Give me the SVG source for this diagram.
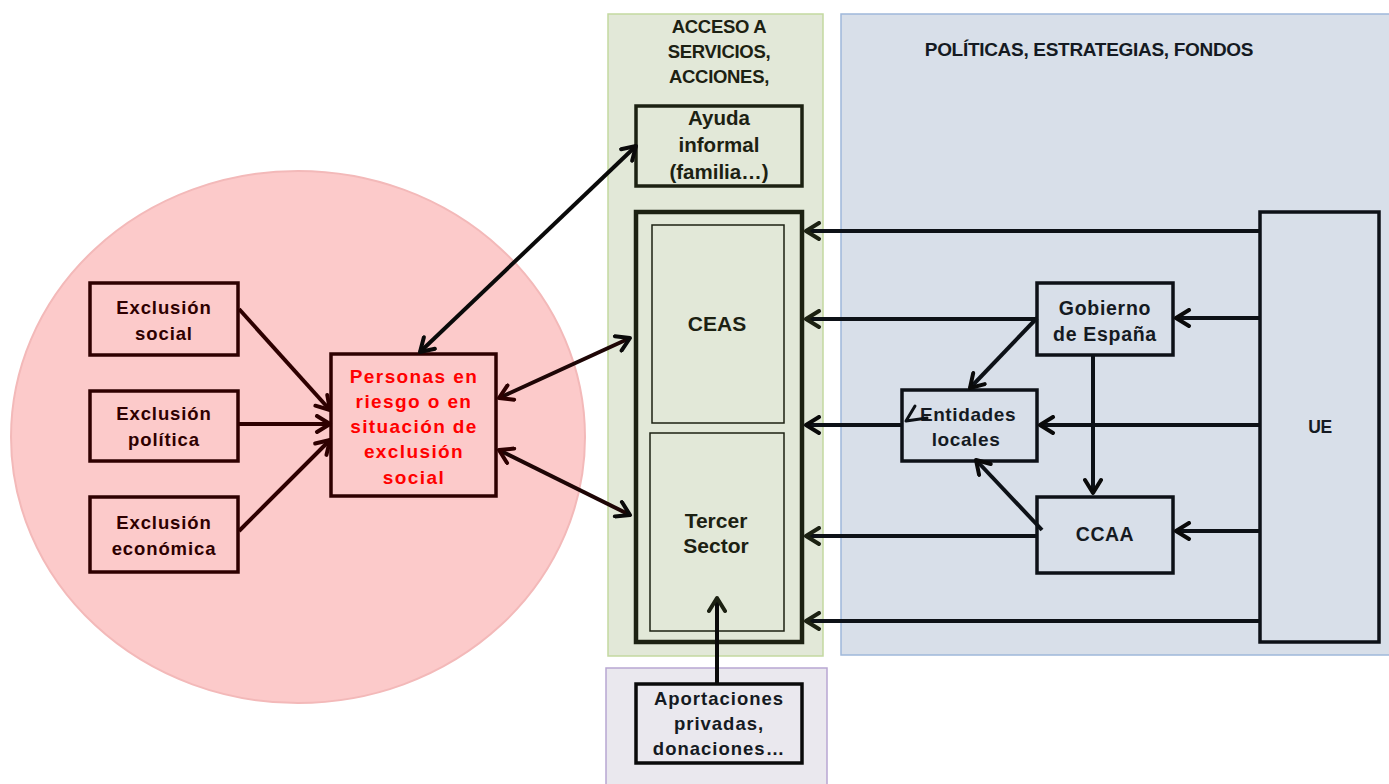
<svg xmlns="http://www.w3.org/2000/svg" width="1389" height="784" viewBox="0 0 1389 784">
<defs>
<style>
.t{font-family:"Liberation Sans",Arial,sans-serif;font-weight:bold;text-anchor:middle}
.dk{fill:#1c2112}
.mr{fill:#2e0000}
.bl{fill:#151a22}
.red{fill:#ff0000}
.box{stroke-width:3.5}
.ln{fill:none;stroke-width:4}
</style>
<marker id="ak" viewBox="0 0 20 20" refX="17" refY="10" markerWidth="20" markerHeight="20" markerUnits="userSpaceOnUse" orient="auto-start-reverse">
<path d="M4,2 L17,10 L4,18" fill="none" stroke="#0a0a0a" stroke-width="4" stroke-linecap="round" stroke-linejoin="round"/>
</marker>
<marker id="am" viewBox="0 0 20 20" refX="17" refY="10" markerWidth="20" markerHeight="20" markerUnits="userSpaceOnUse" orient="auto-start-reverse">
<path d="M4,2 L17,10 L4,18" fill="none" stroke="#2e0000" stroke-width="4" stroke-linecap="round" stroke-linejoin="round"/>
</marker>
<marker id="ag" viewBox="0 0 20 20" refX="17" refY="10" markerWidth="20" markerHeight="20" markerUnits="userSpaceOnUse" orient="auto-start-reverse">
<path d="M4,2 L17,10 L4,18" fill="none" stroke="#1c2112" stroke-width="4" stroke-linecap="round" stroke-linejoin="round"/>
</marker>
</defs>
<rect width="1389" height="784" fill="#ffffff"/>

<g id="backgrounds">
<ellipse cx="298" cy="437" rx="287" ry="266" fill="#fccaca" stroke="#f3b9b9" stroke-width="2"/>
<rect x="608" y="14" width="215" height="642" fill="#e2e8d8" stroke="#c3d9a0" stroke-width="1.5"/>
<rect x="841" y="14" width="550" height="641" fill="#d8dfe9" stroke="#9fb8da" stroke-width="1.5"/>
<rect x="606" y="668" width="221" height="120" fill="#eae8ee" stroke="#b8a6d2" stroke-width="1.5"/>
</g>

<g id="panel-labels">
<text class="t dk" font-size="18.5" letter-spacing="-0.3" x="719" y="33">ACCESO A</text>
<text class="t dk" font-size="18.5" letter-spacing="-0.3" x="719" y="58">SERVICIOS,</text>
<text class="t dk" font-size="18.5" letter-spacing="-0.3" x="719" y="83">ACCIONES,</text>
<text class="t bl" font-size="19" letter-spacing="-0.3" x="1089" y="56">POLÍTICAS, ESTRATEGIAS, FONDOS</text>
</g>

<g id="excl-social">
<rect class="box" x="90" y="283" width="148" height="72" fill="none" stroke="#2e0000"/>
<text class="t mr" font-size="18.5" letter-spacing="0.9" x="164" y="314">Exclusión</text>
<text class="t mr" font-size="18.5" letter-spacing="0.9" x="164" y="340">social</text>
</g>
<g id="excl-politica">
<rect class="box" x="90" y="391" width="148" height="70" fill="none" stroke="#2e0000"/>
<text class="t mr" font-size="18.5" letter-spacing="0.9" x="164" y="420">Exclusión</text>
<text class="t mr" font-size="18.5" letter-spacing="0.9" x="164" y="446">política</text>
</g>
<g id="excl-economica">
<rect class="box" x="90" y="497" width="148" height="75" fill="none" stroke="#2e0000"/>
<text class="t mr" font-size="18.5" letter-spacing="0.9" x="164" y="529">Exclusión</text>
<text class="t mr" font-size="18.5" letter-spacing="0.9" x="164" y="555">económica</text>
</g>
<g id="personas">
<rect class="box" x="331" y="354" width="165" height="142" fill="none" stroke="#2e0000"/>
<text class="t red" font-size="19" letter-spacing="1.4" x="414" y="383">Personas en</text>
<text class="t red" font-size="19" letter-spacing="1.4" x="414" y="408">riesgo o en</text>
<text class="t red" font-size="19" letter-spacing="1.4" x="414" y="433">situación de</text>
<text class="t red" font-size="19" letter-spacing="1.4" x="414" y="458">exclusión</text>
<text class="t red" font-size="19" letter-spacing="1.4" x="414" y="484">social</text>
</g>

<g id="ayuda">
<rect class="box" x="636" y="106" width="166" height="80" fill="none" stroke="#1c2112"/>
<text class="t dk" font-size="20.5" x="719" y="125">Ayuda</text>
<text class="t dk" font-size="20.5" x="719" y="152">informal</text>
<text class="t dk" font-size="20.5" x="719" y="179">(familia…)</text>
</g>
<g id="servicios">
<rect x="636" y="212" width="166" height="430" fill="none" stroke="#1c2112" stroke-width="4.5"/>
</g>
<g id="ceas">
<rect x="652" y="225" width="132" height="198" fill="none" stroke="#1c2112" stroke-width="1.5"/>
<text class="t dk" font-size="21" x="717" y="331">CEAS</text>
</g>
<g id="tercer-sector">
<rect x="650" y="433" width="134" height="198" fill="none" stroke="#1c2112" stroke-width="1.5"/>
<text class="t dk" font-size="21" x="716" y="528">Tercer</text>
<text class="t dk" font-size="21" x="716" y="553">Sector</text>
</g>
<g id="aportaciones">
<rect class="box" x="636" y="684" width="166" height="79" fill="none" stroke="#0a0a0a"/>
<text class="t bl" font-size="18.5" letter-spacing="1" x="719" y="705">Aportaciones</text>
<text class="t bl" font-size="18.5" letter-spacing="1" x="719" y="730">privadas,</text>
<text class="t bl" font-size="18.5" letter-spacing="1" x="719" y="755">donaciones…</text>
</g>

<g id="gobierno">
<rect class="box" x="1037" y="283" width="136" height="72" fill="none" stroke="#0d1117"/>
<text class="t bl" font-size="19.5" letter-spacing="0.7" x="1105" y="315">Gobierno</text>
<text class="t bl" font-size="19.5" letter-spacing="0.7" x="1105" y="341">de España</text>
</g>
<g id="entidades">
<rect class="box" x="902" y="390" width="135" height="71" fill="none" stroke="#0d1117"/>
<text class="t bl" font-size="19" letter-spacing="0.6" x="968" y="421">Entidades</text>
<text class="t bl" font-size="19" letter-spacing="0.6" x="966" y="446">locales</text>
</g>
<g id="ccaa">
<rect class="box" x="1037" y="497" width="136" height="76" fill="none" stroke="#0d1117"/>
<text class="t bl" font-size="19.5" letter-spacing="0.5" x="1105" y="541">CCAA</text>
</g>
<g id="ue">
<rect class="box" x="1260" y="212" width="119" height="430" fill="none" stroke="#0d1117"/>
<text class="t bl" font-size="17.5" letter-spacing="-0.5" x="1320" y="433">UE</text>
</g>

<g id="connectors">
<line class="ln" stroke="#2e0000" x1="239" y1="309" x2="330" y2="410" marker-end="url(#am)"/>
<line class="ln" stroke="#2e0000" x1="239" y1="424" x2="330" y2="424" marker-end="url(#am)"/>
<line class="ln" stroke="#2e0000" x1="239" y1="531" x2="330" y2="440" marker-end="url(#am)"/>
<line class="ln" stroke="#0a0a0a" x1="420" y1="352" x2="636" y2="146" marker-start="url(#ak)" marker-end="url(#ak)"/>
<line class="ln" stroke="#1e0606" x1="499" y1="398" x2="630" y2="338" marker-start="url(#am)" marker-end="url(#ak)"/>
<line class="ln" stroke="#1e0606" x1="499" y1="450" x2="630" y2="515" marker-start="url(#am)" marker-end="url(#ak)"/>
<line class="ln" stroke="#0a0a0a" x1="717" y1="684" x2="717" y2="598" marker-end="url(#ag)"/>
<line class="ln" stroke="#0d1117" x1="1260" y1="231" x2="806" y2="231" marker-end="url(#ag)"/>
<line class="ln" stroke="#0d1117" x1="1037" y1="319" x2="806" y2="319" marker-end="url(#ag)"/>
<line class="ln" stroke="#0d1117" x1="902" y1="425" x2="806" y2="425" marker-end="url(#ak)"/>
<line class="ln" stroke="#0d1117" x1="1037" y1="536" x2="806" y2="536" marker-end="url(#ag)"/>
<line class="ln" stroke="#0d1117" x1="1260" y1="621" x2="806" y2="621" marker-end="url(#ag)"/>
<line class="ln" stroke="#0d1117" x1="1260" y1="318" x2="1176" y2="318" marker-end="url(#ak)"/>
<line class="ln" stroke="#0d1117" x1="1260" y1="425" x2="1040" y2="425" marker-end="url(#ak)"/>
<line class="ln" stroke="#0d1117" x1="1260" y1="531" x2="1176" y2="531" marker-end="url(#ak)"/>
<line class="ln" stroke="#0d1117" x1="1093" y1="356" x2="1093" y2="493" marker-end="url(#ak)"/>
<line class="ln" stroke="#0d1117" x1="1037" y1="318" x2="970" y2="388" marker-end="url(#ak)"/>
<line class="ln" stroke="#0d1117" x1="1042" y1="530" x2="976" y2="460" marker-end="url(#ak)"/>
<path d="M915,406 L906,421 L927,418" fill="none" stroke="#0d1117" stroke-width="3" stroke-linecap="round" stroke-linejoin="round"/>
</g>
</svg>
